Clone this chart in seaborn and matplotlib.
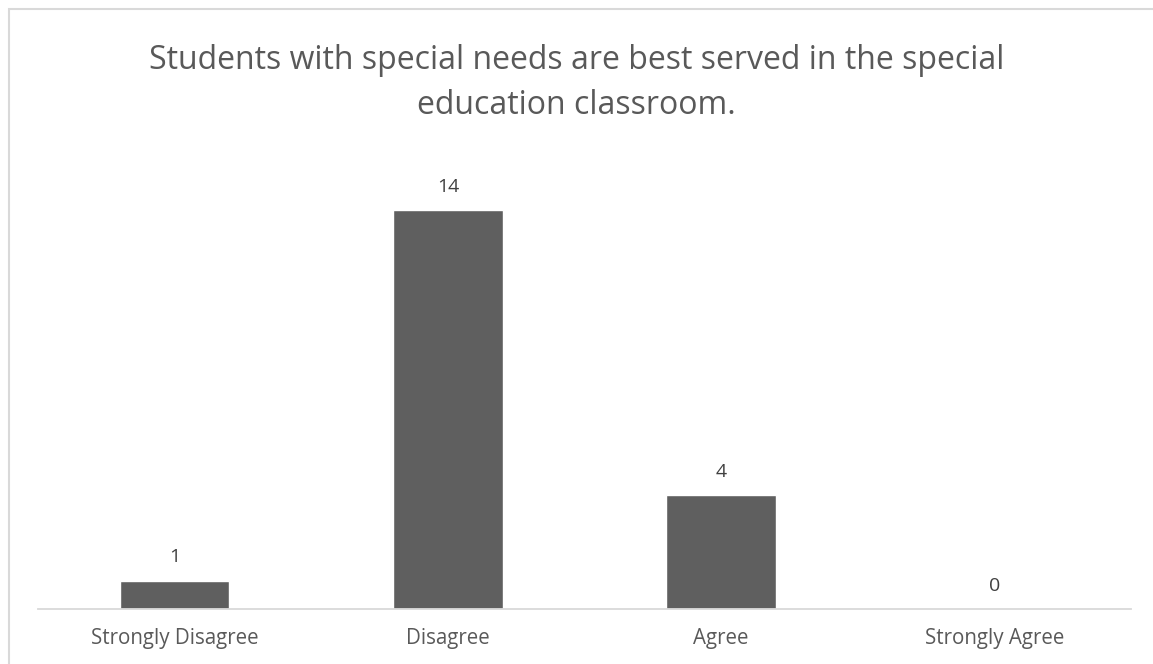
import pandas as pd
import matplotlib
matplotlib.use("Agg")
import matplotlib.pyplot as plt
import seaborn as sns
from matplotlib.patches import Rectangle

# data
responses = ["Strongly Disagree", "Disagree", "Agree", "Strongly Agree"]
counts = [1, 14, 4, 0]
title = "Students with special needs are best served in the special\neducation classroom."

df = pd.DataFrame({"Response": responses, "Count": counts})

sns.set_theme(style="white")
plt.rcParams['font.family'] = ['Open Sans', 'DejaVu Sans']

W, H = 1153, 664
fig = plt.figure(figsize=(W / 100, H / 100), dpi=100)
ax = fig.add_axes([38 / W, (H - 609) / H, (1131 - 38) / W, (609 - 153) / H])

sns.barplot(data=df, x="Response", y="Count", order=responses, color="#5f5f5f",
            saturation=1, width=0.40, ax=ax)

for i, v in enumerate(counts):
    ax.text(i, v + 0.5, str(v), ha="center", va="bottom", fontsize=14, color="#404040")

ax.set_ylim(0, 16)
ax.set_xlim(-0.5, len(responses) - 0.5)
ax.set_yticks([])
ax.set_xlabel("")
ax.set_ylabel("")
for s in ["top", "right", "left"]:
    ax.spines[s].set_visible(False)
ax.spines["bottom"].set_color("#d9d9d9")
ax.spines["bottom"].set_linewidth(1.3)
ax.tick_params(axis="x", length=0, pad=14, labelsize=14.8, labelcolor="#595959")

fig.text(0.5, (H - 83) / H, title, ha="center", va="center", fontsize=23,
         color="#595959", linespacing=1.48)

# outer chart border (runs off the right and bottom edges)
fig.patches.append(Rectangle((9 / W, -0.05), 1.1, (H - 9) / H + 0.05, transform=fig.transFigure,
                             fill=False, edgecolor="#d9d9d9", linewidth=1.5))

fig.savefig("out.png", dpi=100)
